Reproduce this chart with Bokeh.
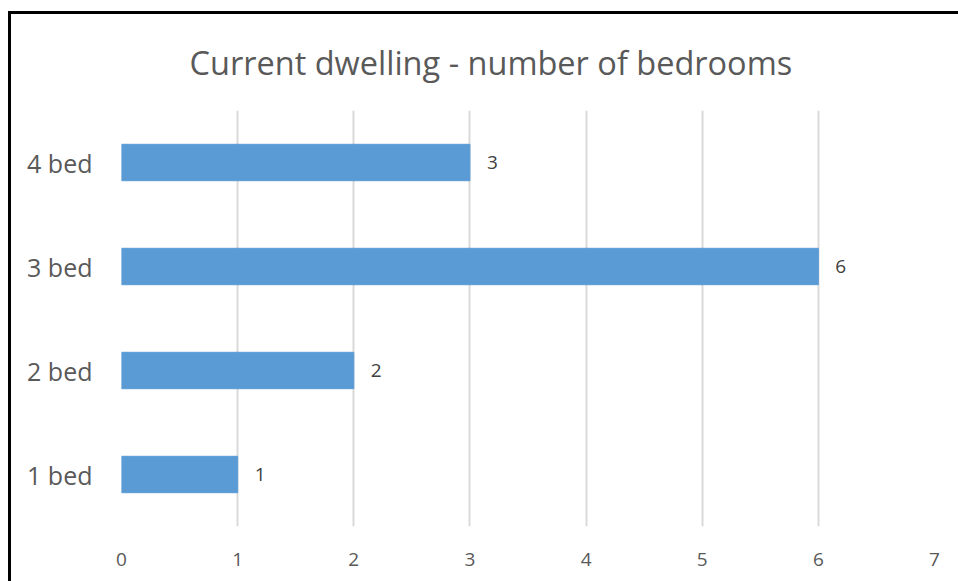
from bokeh.plotting import figure
from bokeh.models import ColumnDataSource, LabelSet, FactorRange, Range1d, FixedTicker, Title
from bokeh.core.properties import value
from bokeh.embed import file_html
from bokeh.resources import INLINE

categories = ["1 bed", "2 bed", "3 bed", "4 bed"]
counts = [1, 2, 6, 3]
x_ticks = [0, 1, 2, 3, 4, 5, 6, 7]
title_text = "Current dwelling - number of bedrooms"

FONT = "Open Sans"
TXT = "#595959"

src = ColumnDataSource(dict(cat=categories, val=counts, lab=[str(v) for v in counts]))

p = figure(
    y_range=FactorRange(*categories, range_padding=0),
    x_range=Range1d(0, 7),
    output_backend="svg",
    toolbar_location=None,
    frame_width=813, frame_height=416,
    min_border_left=110, min_border_right=24,
    min_border_top=96, min_border_bottom=55,
    styles={"border-left": "3px solid black", "border-top": "3px solid black",
            "margin-top": "11px", "margin-left": "8px"},
)
p.outline_line_color = None

p.hbar(y="cat", right="val", left=0, height=0.35, color="#5b9bd5", source=src)

labels = LabelSet(x="val", y="cat", text="lab", source=src, x_offset=17,
                  text_align="left", text_baseline="middle",
                  text_font=value(FONT), text_font_size=value("19px"), text_color=value("#404040"))
p.add_layout(labels)

t = Title(text=title_text, align="left", offset=68, standoff=47, vertical_align="top",
          text_font=FONT, text_font_size="32.5px", text_color=TXT, text_font_style="normal")
p.add_layout(t, "above")

p.xaxis.ticker = FixedTicker(ticks=x_ticks)
p.xaxis.axis_line_color = None
p.xaxis.major_tick_line_color = None
p.xaxis.minor_tick_line_color = None
p.xaxis.major_label_standoff = 20
p.xaxis.major_label_text_font = FONT
p.xaxis.major_label_text_font_size = "19px"
p.xaxis.major_label_text_color = TXT

p.yaxis.axis_line_color = None
p.yaxis.major_tick_line_color = None
p.yaxis.minor_tick_line_color = None
p.yaxis.major_label_standoff = 23
p.yaxis.major_label_text_font = FONT
p.yaxis.major_label_text_font_size = "25px"
p.yaxis.major_label_text_color = TXT

p.xgrid.grid_line_color = "#d9d9d9"
p.xgrid.grid_line_width = 2
p.ygrid.grid_line_color = None

open("out.html", "w").write(file_html(p, INLINE))
